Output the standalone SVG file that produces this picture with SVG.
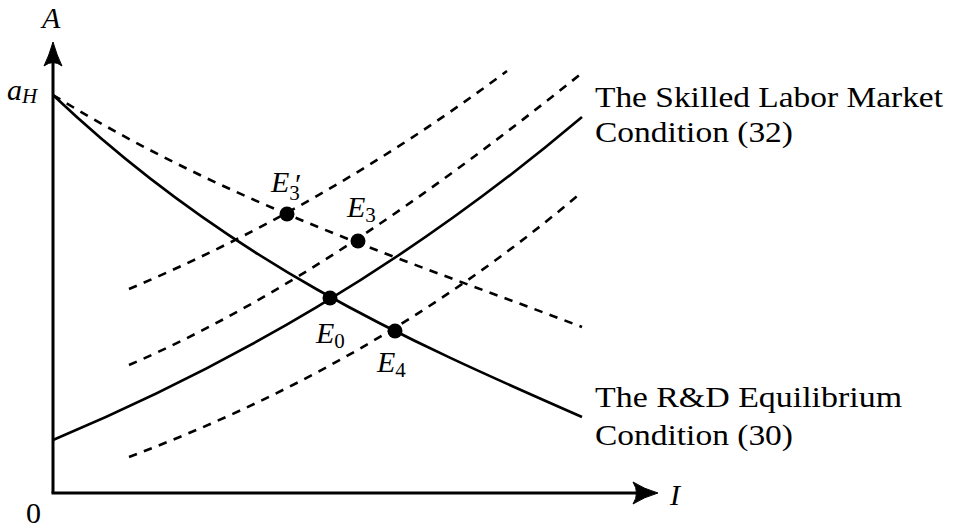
<svg xmlns="http://www.w3.org/2000/svg" width="953" height="532" viewBox="0 0 953 532">
<style>
.axis{fill:none;stroke:#000;stroke-width:3}
.solid{fill:none;stroke:#000;stroke-width:2.6}
.dash{fill:none;stroke:#000;stroke-width:2.6;stroke-dasharray:8.5 7.5}
.head{fill:#000;stroke:#000;stroke-width:1;stroke-linejoin:round}
.dot{fill:#000}
text{font-family:'Liberation Serif','Times New Roman',Times,serif;fill:#000}
.lbl{font-size:30px}
.m{font-style:italic;font-size:30px}
.sub{font-style:normal;font-size:21px}
.msub{font-style:italic;font-size:21px}
</style>
<rect width="953" height="532" fill="#fff"/>
<g id="axes">
<line class="axis" x1="53" y1="493" x2="53" y2="50"/>
<line class="axis" x1="51.5" y1="493" x2="650" y2="493"/>
<path class="head" d="M53,42 Q57,56 62,66 Q53,59 44,66 Q49,56 53,42 Z"/>
<path class="head" d="M658,493 Q644,497 633,504 Q640,493 633,482 Q644,489 658,493 Z"/>
<text class="m" x="42" y="28">A</text>
<text class="m" x="670" y="505">I</text>
<text class="lbl" x="26" y="523">0</text>
<text class="m" x="7" y="100">a<tspan class="msub" dy="3">H</tspan></text>
</g>
<g id="connectors">
<path id="rd" class="solid" d="M53,95 C229,262 406,340 582,417"/>
<path id="slm" class="solid" d="M53,440 C229,366 406,266 582,117"/>
<path id="rd-dash" class="dash" d="M53,95 C229,204 406,260 582,327"/>
<path id="slm-up" class="dash" d="M129,289 C255,236 381,165 507,71"/>
<path id="slm-mid" class="dash" d="M129,365 C280,300 431,194 582,73"/>
<path id="slm-low" class="dash" d="M129,457 C280,400 431,320 582,192"/>
</g>
<g id="E0"><circle class="dot" cx="330" cy="298" r="7.5"/><text class="m" x="316" y="343">E<tspan class="sub" dy="5">0</tspan></text></g>
<g id="E4"><circle class="dot" cx="395" cy="331" r="7.5"/><text class="m" x="377" y="372">E<tspan class="sub" dy="5">4</tspan></text></g>
<g id="E3"><circle class="dot" cx="358" cy="241" r="7.5"/><text class="m" x="347" y="217">E<tspan class="sub" dy="5">3</tspan></text></g>
<g id="E3p"><circle class="dot" cx="287" cy="214" r="7.5"/><text class="m" x="271" y="192">E<tspan class="sub" dy="8">3</tspan></text><text class="lbl" x="295" y="194" font-size="24">′</text></g>
<g id="label-slm">
<text class="lbl" x="595" y="107" textLength="348" lengthAdjust="spacingAndGlyphs">The Skilled Labor Market</text>
<text class="lbl" x="595" y="142" textLength="198" lengthAdjust="spacingAndGlyphs">Condition (32)</text>
</g>
<g id="label-rd">
<text class="lbl" x="595" y="407" textLength="307" lengthAdjust="spacingAndGlyphs">The R&amp;D Equilibrium</text>
<text class="lbl" x="595" y="445" textLength="198" lengthAdjust="spacingAndGlyphs">Condition (30)</text>
</g>
</svg>
